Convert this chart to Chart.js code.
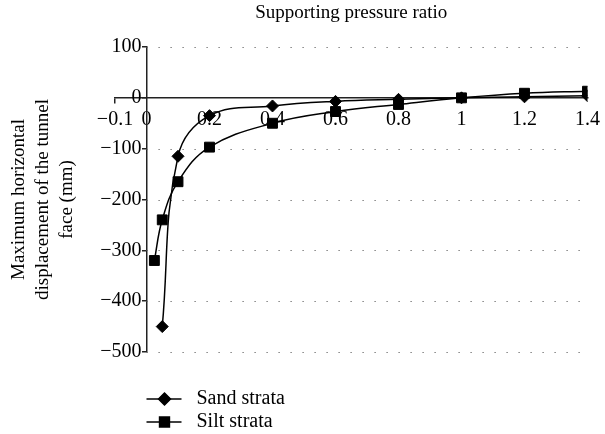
<!DOCTYPE html>
<html>
<head>
<meta charset="utf-8">
<script src="https://cdn.jsdelivr.net/npm/chart.js@4.4.0/dist/chart.umd.min.js"></script>
<style>
    html, body { margin: 0; padding: 0; background: #fff; }
    #wrap { width: 605px; height: 434px; }
</style>
</head>
<body>
<div id="wrap"><canvas id="chart" width="605" height="434"></canvas></div>
<script>
//---------------------------------------------
// DATA
//---------------------------------------------
const xTicks = [-0.1, 0, 0.2, 0.4, 0.6, 0.8, 1, 1.2, 1.4];
const yTicks = [-500, -400, -300, -200, -100, 0, 100];

const sandX = [0.05, 0.1, 0.2, 0.4, 0.6, 0.8, 1.0, 1.2, 1.4];
const sandY = [-450, -115, -35, -16, -7, -3, 0, 2, 4];

const siltX = [0.025, 0.05, 0.1, 0.2, 0.4, 0.6, 0.8, 1.0, 1.2, 1.4];
const siltY = [-320, -240, -165, -97, -50, -27, -13, 0, 9, 13];

const seriesNames = ["Sand strata", "Silt strata"];
const xTitle = "Supporting pressure ratio";
const yTitle = ["Maximum horizontal", "displacement of the tunnel", "face (mm)"];

const FONT = "'Liberation Serif', 'Times New Roman', serif";
const minus = v => String(v).replace("-", "\u2212");

//---------------------------------------------
// PLUGINS
//---------------------------------------------
// dotted horizontal gridlines, starting at the y axis (x = 0)
const dottedGrid = {
    id: "dottedGrid",
    beforeDatasetsDraw(chart) {
        const { ctx, chartArea, scales } = chart;
        const x0 = scales.x.getPixelForValue(0);
        ctx.save();
        ctx.strokeStyle = "#666";
        ctx.lineWidth = 1.2;
        ctx.setLineDash([1.2, 10.8]);
        yTicks.forEach(v => {
            if (v === 0) return;
            const y = Math.round(scales.y.getPixelForValue(v)) + 0.5;
            ctx.beginPath();
            ctx.moveTo(x0, y);
            ctx.lineTo(chartArea.right, y);
            ctx.stroke();
        });
        ctx.restore();
    }
};

// stacked legend under the plot
const stackedLegend = {
    id: "stackedLegend",
    afterDraw(chart) {
        const ctx = chart.ctx;
        const x0 = chart.scales.x.getPixelForValue(0);
        ctx.save();
        chart.data.datasets.forEach((ds, i) => {
            const y = 399 + i * 23;
            ctx.strokeStyle = "#000";
            ctx.lineWidth = 1.5;
            ctx.beginPath();
            ctx.moveTo(x0, y);
            ctx.lineTo(x0 + 35, y);
            ctx.stroke();
            ctx.fillStyle = "#000";
            Chart.helpers.drawPoint(ctx, {
                pointStyle: ds.pointStyle,
                radius: ds.pointRadius,
                rotation: 0,
                borderWidth: 1
            }, x0 + 18, y);
            ctx.fill();
            ctx.font = "20px " + FONT;
            ctx.textBaseline = "middle";
            ctx.textAlign = "left";
            ctx.fillText(ds.label, x0 + 50, y);
        });
        ctx.restore();
    }
};

//---------------------------------------------
// CHART
//---------------------------------------------
const toPoints = (xs, ys) => xs.map((x, i) => ({ x, y: ys[i] }));

new Chart(document.getElementById("chart").getContext("2d"), {
    type: "line",
    data: {
        datasets: [
            {
                label: seriesNames[0],
                data: toPoints(sandX, sandY),
                xAxisID: "x", yAxisID: "y",
                borderColor: "#000", backgroundColor: "#000",
                borderWidth: 1.5, tension: 0.4,
                pointStyle: "rectRot", pointRadius: 6,
                pointBorderWidth: 1
            },
            {
                label: seriesNames[1],
                data: toPoints(siltX, siltY),
                xAxisID: "x", yAxisID: "y",
                borderColor: "#000", backgroundColor: "#000",
                borderWidth: 1.5, tension: 0.4,
                pointStyle: "rect", pointRadius: 7,
                pointBorderWidth: 1
            }
        ]
    },
    options: {
        responsive: false,
        animation: false,
        devicePixelRatio: 1,
        layout: { padding: { left: 0, right: 10, top: 0, bottom: 82 } },
        plugins: {
            legend: { display: false },
            tooltip: { enabled: false }
        },
        scales: {
            x: {
                type: "linear", axis: "x",
                position: { y: 0 },
                min: -0.1, max: 1.4,
                afterBuildTicks: s => { s.ticks = xTicks.map(v => ({ value: v })); },
                ticks: {
                    color: "#000", font: { family: FONT, size: 20 },
                    padding: 5, maxRotation: 0, autoSkip: false,
                    callback: v => minus(v)
                },
                grid: {
                    drawOnChartArea: false, tickLength: 5, lineWidth: 1.5,
                    color: c => (c.tick && c.tick.value === -0.1) ? "#222" : "rgba(0,0,0,0)"
                },
                border: { display: true, color: "#222", width: 1.5 }
            },
            y: {
                type: "linear", axis: "y",
                position: { x: 0 },
                min: -500, max: 100,
                afterBuildTicks: s => { s.ticks = yTicks.map(v => ({ value: v })); },
                ticks: {
                    color: "#000", font: { family: FONT, size: 20 },
                    padding: 3, autoSkip: false,
                    // label sits flush on a positioned axis; a trailing space keeps it clear of the line
                    callback: v => minus(v) + " "
                },
                grid: { drawOnChartArea: false, tickLength: 4, color: "#222", lineWidth: 1.5 },
                border: { display: true, color: "#222", width: 1.5 }
            },
            xTitle: {
                type: "linear", axis: "x", position: "top", display: true,
                ticks: { display: false },
                grid: { display: false, drawTicks: false },
                border: { display: false },
                title: {
                    display: true, text: xTitle, color: "#000",
                    font: { family: FONT, size: 19, lineHeight: "22px" },
                    padding: { top: 2, bottom: 23 }
                }
            },
            yTitle: {
                type: "linear", axis: "y", position: "left", display: true,
                ticks: { display: false },
                grid: { display: false, drawTicks: false },
                border: { display: false },
                title: {
                    display: true, text: yTitle, color: "#000",
                    font: { family: FONT, size: 19, lineHeight: "24px" },
                    padding: { top: 7, bottom: 36 }
                }
            }
        }
    },
    plugins: [dottedGrid, stackedLegend]
});
</script>
</body>
</html>
